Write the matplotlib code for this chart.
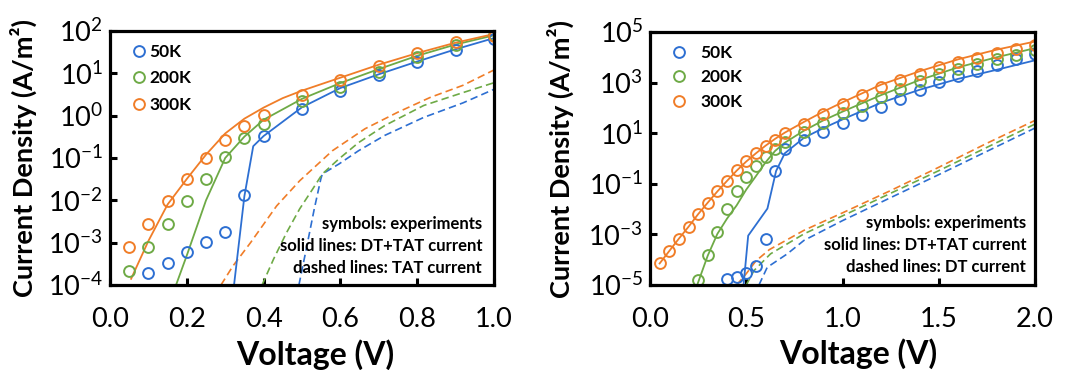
import numpy as np
import matplotlib
matplotlib.use('Agg')
import matplotlib.pyplot as plt
from matplotlib.ticker import FixedLocator, NullLocator, FormatStrFormatter

plt.rcParams['font.family'] = ['Lato', 'DejaVu Sans']
plt.rcParams['mathtext.fontset'] = 'custom'
plt.rcParams['mathtext.rm'] = 'Lato'
plt.rcParams['mathtext.bf'] = 'Lato:bold'

BLUE = '#2D6FD2'
GREEN = '#6EAA46'
ORANGE = '#F07D28'

temps = ['50K', '200K', '300K']

# ---------------- left panel (0 - 1 V) ----------------
vExpL_50 = [0.1, 0.15, 0.2, 0.25, 0.3, 0.35, 0.4, 0.5, 0.6, 0.7, 0.8, 0.9, 1.0]
jExpL_50 = [1.95e-4, 3.4e-4, 5.9e-4, 1.05e-3, 1.75e-3, 1.35e-2, 0.34, 1.45, 3.9, 9.0, 19, 36, 65]
vExpL_200 = [0.05, 0.1, 0.15, 0.2, 0.25, 0.3, 0.35, 0.4, 0.5, 0.6, 0.7, 0.8, 0.9, 1.0]
jExpL_200 = [2.1e-4, 8.0e-4, 2.8e-3, 9.6e-3, 3.2e-2, 0.105, 0.29, 0.63, 2.2, 4.8, 11, 24, 47, 80]
vExpL_300 = [0.05, 0.1, 0.15, 0.2, 0.25, 0.3, 0.35, 0.4, 0.5, 0.6, 0.7, 0.8, 0.9, 1.0]
jExpL_300 = [8.0e-4, 2.8e-3, 9.5e-3, 3.2e-2, 9.8e-2, 0.26, 0.56, 1.05, 3.0, 6.8, 15, 30, 55, 75]

# DT+TAT (solid)
vSolL_50 = [0.323, 0.35, 0.373, 0.4, 0.5, 0.6, 0.7, 0.8, 0.9, 1.0]
jSolL_50 = [1e-4, 1.26e-2, 0.19, 0.33, 1.58, 4.5, 9.5, 19, 37, 68]
vSolL_200 = [0.172, 0.2, 0.25, 0.3, 0.35, 0.4, 0.5, 0.6, 0.7, 0.8, 0.9, 1.0]
jSolL_200 = [1e-4, 5e-4, 1.0e-2, 0.1, 0.32, 0.8, 2.5, 5.9, 12.6, 26, 48, 79]
vSolL_300 = [0.055, 0.1, 0.15, 0.2, 0.25, 0.3, 0.35, 0.4, 0.45, 0.5, 0.6, 0.7, 0.8, 0.9, 1.0]
jSolL_300 = [1.4e-4, 1.1e-3, 8e-3, 3.2e-2, 0.12, 0.38, 0.85, 1.55, 2.6, 3.9, 7.9, 16, 30, 53, 85]

# TAT (dashed)
vDshL_50 = [0.492, 0.511, 0.532, 0.549, 0.553, 0.596, 0.647, 0.715, 0.817, 0.919, 1.0]
jDshL_50 = [1e-4, 7e-4, 6.3e-3, 3.2e-2, 4.2e-2, 7.2e-2, 0.148, 0.34, 0.91, 2.0, 4.2]
vDshL_200 = [0.396, 0.426, 0.46, 0.494, 0.528, 0.553, 0.596, 0.647, 0.715, 0.817, 0.919, 1.0]
jDshL_200 = [1e-4, 4.1e-4, 1.74e-3, 6.3e-3, 1.86e-2, 4.2e-2, 9.5e-2, 0.23, 0.58, 1.74, 3.5, 6.0]
vDshL_300 = [0.289, 0.32, 0.366, 0.434, 0.494, 0.579, 0.664, 0.749, 0.834, 0.919, 1.0]
jDshL_300 = [1e-4, 2.8e-4, 1.0e-3, 7.4e-3, 2.9e-2, 0.148, 0.49, 1.2, 2.7, 5.2, 12]

xticksL = [0.0, 0.2, 0.4, 0.6, 0.8, 1.0]
yticksL = [1e-4, 1e-3, 1e-2, 1e-1, 1e0, 1e1, 1e2]
notesL = ['symbols: experiments', 'solid lines: DT+TAT current', 'dashed lines: TAT current']

# ---------------- right panel (0 - 2 V) ----------------
vExpR_50 = [0.4, 0.45, 0.5, 0.55, 0.6, 0.65, 0.7, 0.8, 0.9, 1.0, 1.1, 1.2, 1.3, 1.4, 1.5, 1.6, 1.7, 1.8, 1.9, 2.0]
jExpR_50 = [1.74e-5, 2.1e-5, 2.9e-5, 5.5e-5, 6.3e-4, 0.32, 2.3, 5.4, 11.5, 26, 52, 112, 224, 490,
            1100, 1860, 2950, 5000, 8300, 13200]
vExpR_200 = [0.25, 0.3, 0.35, 0.4, 0.45, 0.5, 0.55, 0.6, 0.65, 0.7, 0.8, 0.9, 1.0, 1.1, 1.2, 1.3, 1.4,
             1.5, 1.6, 1.7, 1.8, 1.9, 2.0]
jExpR_200 = [1.6e-5, 1.5e-4, 1.23e-3, 1.0e-2, 5.4e-2, 0.19, 0.51, 1.15, 2.4, 4.5, 11.5, 26, 62, 120,
             280, 550, 1170, 2140, 3550, 5500, 8500, 12900, 19000]
vExpR_300 = [0.05, 0.1, 0.15, 0.2, 0.25, 0.3, 0.35, 0.4, 0.45, 0.5, 0.55, 0.6, 0.65, 0.7, 0.8, 0.9,
             1.0, 1.1, 1.2, 1.3, 1.4, 1.5, 1.6, 1.7, 1.8, 1.9, 2.0]
jExpR_300 = [7.2e-5, 2.2e-4, 6.6e-4, 2.0e-3, 6.6e-3, 1.8e-2, 5.2e-2, 0.135, 0.35, 0.8, 1.6, 3.2, 5.6,
             10, 24, 58, 138, 310, 690, 1290, 2240, 4000, 6600, 9800, 14500, 21000, 32000]

vSolR_50 = [0.486, 0.51, 0.61, 0.655, 0.7, 0.8, 0.9, 1.0, 1.2, 1.4, 1.6, 1.8, 2.0]
jSolR_50 = [1e-5, 8.9e-4, 1.05e-2, 0.32, 1.6, 6.6, 15.8, 35, 160, 520, 1400, 3200, 7600]
vSolR_200 = [0.245, 0.3, 0.35, 0.4, 0.45, 0.5, 0.55, 0.6, 0.65, 0.7, 0.8, 0.9, 1.0, 1.2, 1.4, 1.6, 1.8, 2.0]
jSolR_200 = [1e-5, 1.45e-4, 1.05e-3, 4.2e-3, 1.4e-2, 5.9e-2, 0.2, 0.7, 2.0, 4.2, 12.6, 32, 71, 320,
             1260, 4000, 10000, 23000]
vSolR_300 = [0.05, 0.1, 0.15, 0.2, 0.25, 0.3, 0.35, 0.4, 0.45, 0.5, 0.55, 0.6, 0.65, 0.7, 0.8, 0.9,
             1.0, 1.2, 1.4, 1.6, 1.8, 2.0]
jSolR_300 = [7.1e-5, 2.2e-4, 6.8e-4, 2.0e-3, 6.3e-3, 1.8e-2, 5.0e-2, 0.13, 0.33, 0.76, 1.6, 3.2, 6.0,
             10.5, 28, 71, 166, 830, 2800, 8300, 20000, 42000]

vDshR_50 = [0.566, 0.609, 0.713, 0.8, 1.0, 1.5, 2.0]
jDshR_50 = [1e-5, 5.0e-5, 1.7e-4, 5.8e-4, 3.5e-3, 0.23, 16]
vDshR_200 = [0.5, 0.54, 0.626, 0.8, 1.0, 1.5, 2.0]
jDshR_200 = [1e-5, 3.7e-5, 1.7e-4, 1.05e-3, 5.4e-3, 0.33, 23]
vDshR_300 = [0.45, 0.5, 0.55, 0.62, 0.8, 1.0, 1.25, 1.5, 1.75, 2.0]
jDshR_300 = [1e-5, 2.8e-5, 8.9e-5, 2.5e-4, 1.45e-3, 7.1e-3, 5.4e-2, 0.45, 4.0, 32]

xticksR = [0.0, 0.5, 1.0, 1.5, 2.0]
yticksR = [1e-5, 1e-3, 1e-1, 1e1, 1e3, 1e5]
notesR = ['symbols: experiments', 'solid lines: DT+TAT current', 'dashed lines: DT current']


def drawPanel(ax, exp, sol, dsh, xticks, yticks, notes, legPad, legSpacing, noteX, noteY):
    colors = [BLUE, GREEN, ORANGE]
    for (v, j), c in zip(dsh, colors):
        ax.plot(v, j, color=c, lw=1.2, ls=(0, (4.5, 2.5)))
    for (v, j), c in zip(sol, colors):
        ax.plot(v, j, color=c, lw=1.3)
    for (v, j), c, lab in zip(exp, colors, temps):
        ax.plot(v, j, ls='none', marker='o', ms=7.8, mfc='none', mec=c, mew=1.4, label=lab)

    ax.set_yscale('log')
    ax.set_xlim(xticks[0], xticks[-1])
    ax.set_ylim(yticks[0], yticks[-1])
    ax.xaxis.set_major_locator(FixedLocator(xticks))
    ax.xaxis.set_major_formatter(FormatStrFormatter('%.1f'))
    ax.yaxis.set_major_locator(FixedLocator(yticks))
    ax.yaxis.set_minor_locator(NullLocator())
    ax.tick_params(axis='both', direction='in', length=5, width=2.2, labelsize=19.5)
    ax.tick_params(axis='x', pad=16)
    ax.tick_params(axis='y', pad=5)
    for sp in ax.spines.values():
        sp.set_linewidth(2.3)

    ax.set_xlabel('Voltage (V)', fontsize=23, fontweight='bold')
    ax.set_ylabel('Current Density (A/m²)', fontsize=19.5, fontweight='bold')

    ax.legend(loc='upper left', bbox_to_anchor=(0.03, 0.99), frameon=False,
              prop={'size': 12.5, 'weight': 'bold'}, handlelength=0.8,
              handletextpad=legPad, labelspacing=legSpacing, borderaxespad=0.2)

    for txt, y in zip(notes, noteY):
        ax.text(noteX, y, txt, transform=ax.transAxes, ha='right', va='center',
                fontsize=12, fontweight='bold')


fig = plt.figure(figsize=(10.74, 3.70), dpi=100)
axL = fig.add_axes([110 / 1074, 85 / 370, 384 / 1074, 254 / 370])
axR = fig.add_axes([650 / 1074, 85 / 370, 385 / 1074, 253 / 370])

drawPanel(axL,
          [(vExpL_50, jExpL_50), (vExpL_200, jExpL_200), (vExpL_300, jExpL_300)],
          [(vSolL_50, jSolL_50), (vSolL_200, jSolL_200), (vSolL_300, jSolL_300)],
          [(vDshL_50, jDshL_50), (vDshL_200, jDshL_200), (vDshL_300, jDshL_300)],
          xticksL, yticksL, notesL, 0.2, 0.6, 0.969, [0.240, 0.154, 0.067])
drawPanel(axR,
          [(vExpR_50, jExpR_50), (vExpR_200, jExpR_200), (vExpR_300, jExpR_300)],
          [(vSolR_50, jSolR_50), (vSolR_200, jSolR_200), (vSolR_300, jSolR_300)],
          [(vDshR_50, jDshR_50), (vDshR_200, jDshR_200), (vDshR_300, jDshR_300)],
          xticksR, yticksR, notesR, 0.85, 0.48, 0.977, [0.245, 0.158, 0.071])

axL.yaxis.set_label_coords(-0.19, 0.5)
axR.yaxis.set_label_coords(-0.198, 0.5)
axL.xaxis.set_label_coords(0.534, -0.212)
axR.xaxis.set_label_coords(0.54, -0.212)

fig.savefig('out.png', dpi=100)
